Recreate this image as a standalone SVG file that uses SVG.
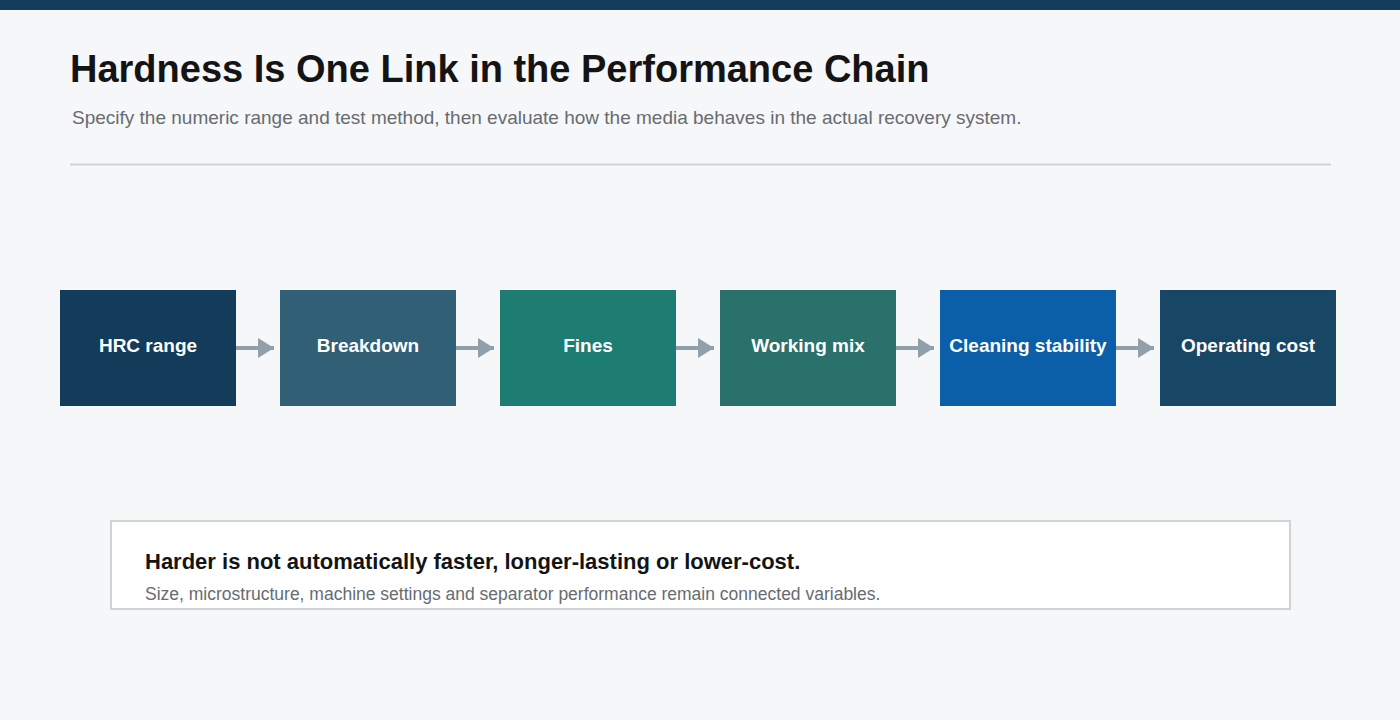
<svg xmlns="http://www.w3.org/2000/svg" width="1400" height="720" viewBox="0 0 1400 720">
<style>
.n{font-family:"Liberation Sans",Arial,sans-serif;font-weight:bold;font-size:19px;fill:#fff;text-anchor:middle}
.c line{stroke:#8fa0aa;stroke-width:4}
</style>
<defs><marker id="a" markerUnits="userSpaceOnUse" markerWidth="16" markerHeight="20" refX="16" refY="10" orient="auto"><path d="M0,0 L16,10 L0,20 Z" fill="#8fa0aa"/></marker></defs>
<rect width="1400" height="720" fill="#f6f7f9"/>
<rect width="1400" height="10" fill="#163d5c"/>
<text x="70" y="82" font-family="Liberation Sans,Arial,sans-serif" font-weight="bold" font-size="38" fill="#141414">Hardness Is One Link in the Performance Chain</text>
<text x="72" y="124" font-family="Liberation Sans,Arial,sans-serif" font-size="19" fill="#666c70">Specify the numeric range and test method, then evaluate how the media behaves in the actual recovery system.</text>
<line x1="70" y1="164.5" x2="1331" y2="164.5" stroke="#cfd3d6" stroke-width="2"/>
<g class="c">
<line x1="236" y1="348" x2="274" y2="348" marker-end="url(#a)"/>
<line x1="456" y1="348" x2="494" y2="348" marker-end="url(#a)"/>
<line x1="676" y1="348" x2="714" y2="348" marker-end="url(#a)"/>
<line x1="896" y1="348" x2="934" y2="348" marker-end="url(#a)"/>
<line x1="1116" y1="348" x2="1154" y2="348" marker-end="url(#a)"/>
</g>
<g id="n1"><rect x="60" y="290" width="176" height="116" fill="#133c5a"/><text class="n" x="148" y="352">HRC range</text></g>
<g id="n2"><rect x="280" y="290" width="176" height="116" fill="#305f76"/><text class="n" x="368" y="352">Breakdown</text></g>
<g id="n3"><rect x="500" y="290" width="176" height="116" fill="#1d7d72"/><text class="n" x="588" y="352">Fines</text></g>
<g id="n4"><rect x="720" y="290" width="176" height="116" fill="#2a706b"/><text class="n" x="808" y="352">Working mix</text></g>
<g id="n5"><rect x="940" y="290" width="176" height="116" fill="#0b5ea8"/><text class="n" x="1028" y="352">Cleaning stability</text></g>
<g id="n6"><rect x="1160" y="290" width="176" height="116" fill="#184766"/><text class="n" x="1248" y="352">Operating cost</text></g>
<g id="note"><rect x="111" y="521" width="1179" height="88" fill="#fff" stroke="#cfd3d6" stroke-width="2"/>
<text x="145" y="569" font-family="Liberation Sans,Arial,sans-serif" font-weight="bold" font-size="22" fill="#141414">Harder is not automatically faster, longer-lasting or lower-cost.</text>
<text x="145" y="600" font-family="Liberation Sans,Arial,sans-serif" font-size="17.5" fill="#666c70">Size, microstructure, machine settings and separator performance remain connected variables.</text></g>
</svg>
